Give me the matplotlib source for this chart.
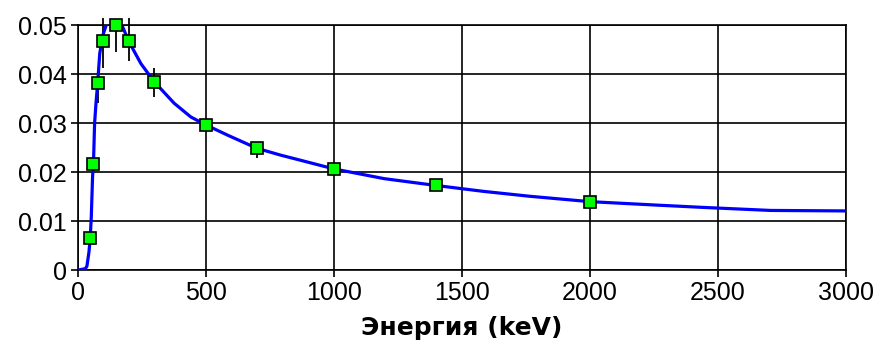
import matplotlib
matplotlib.use("Agg")
import matplotlib.pyplot as plt

# measured points (keV, efficiency)
energy = [50, 60, 80, 100, 150, 200, 300, 500, 700, 1000, 1400, 2000]
eff = [0.0066, 0.0216, 0.0382, 0.0468, 0.0500, 0.0468, 0.0385, 0.0297,
       0.0249, 0.0207, 0.0173, 0.0140]
err_lo = [0, 0, 0.0040, 0.0054, 0.0054, 0.0040, 0.0031, 0, 0.0019, 0, 0, 0]
err_hi = [0, 0, 0, 0.0047, 0, 0.0047, 0.0028, 0, 0, 0, 0, 0]

# fitted curve
curve_e = [0, 30, 36, 44, 49, 53, 58, 62, 66, 72, 78, 86, 97, 114, 140,
           175, 199, 247, 299, 377, 442, 500, 585, 700, 793, 897, 1000,
           1197, 1400, 1585, 1765, 2000, 2258, 2451, 2707, 3000]
curve_v = [0, 0.0003, 0.0008, 0.0037, 0.0066, 0.0108, 0.0190, 0.0225, 0.0300,
           0.0345, 0.0382, 0.0442, 0.0478, 0.0505, 0.0510, 0.0498, 0.0468,
           0.0422, 0.0385, 0.0341, 0.0313, 0.0297, 0.0276, 0.0249, 0.0235,
           0.0221, 0.0207, 0.0187, 0.0173, 0.0161, 0.0151, 0.0140, 0.0133,
           0.0128, 0.0122, 0.0121]

xticks = [0, 500, 1000, 1500, 2000, 2500, 3000]
yticks = [0, 0.01, 0.02, 0.03, 0.04, 0.05]
ytick_labels = ["0", "0.01", "0.02", "0.03", "0.04", "0.05"]

plt.rcParams['font.family'] = ['Liberation Sans', 'DejaVu Sans']

fig = plt.figure(figsize=(8.78, 3.49), dpi=100)
ax = fig.add_axes([0.0885, 0.226, 0.8745, 0.701])

ax.errorbar(energy, eff, yerr=[err_lo, err_hi], fmt='none', ecolor='black',
            elinewidth=1.3, capsize=0, zorder=2, clip_on=False)
ax.plot(curve_e, curve_v, color='#0000ff', lw=2.3, zorder=3)
ax.plot(energy, eff, 's', color='#00ff00', markeredgecolor='black',
        markeredgewidth=1.2, markersize=8.5, zorder=4, clip_on=False)

ax.set_xlim(0, 3000)
ax.set_ylim(0, 0.05)
ax.set_xticks(xticks)
ax.set_xticklabels([str(t) for t in xticks])
ax.set_yticks(yticks)
ax.set_yticklabels(ytick_labels)
ax.tick_params(direction='out', length=5, width=1.2, colors='black',
               labelsize=18, pad=3)
ax.grid(True, color='black', lw=1.2)
ax.set_axisbelow(True)
for s in ax.spines.values():
    s.set_color('black')
    s.set_linewidth(1.2)

ax.set_xlabel("Энергия (keV)", fontsize=18, fontweight='bold',
              family=['DejaVu Sans'], labelpad=8)

fig.savefig("out.png", dpi=100)
